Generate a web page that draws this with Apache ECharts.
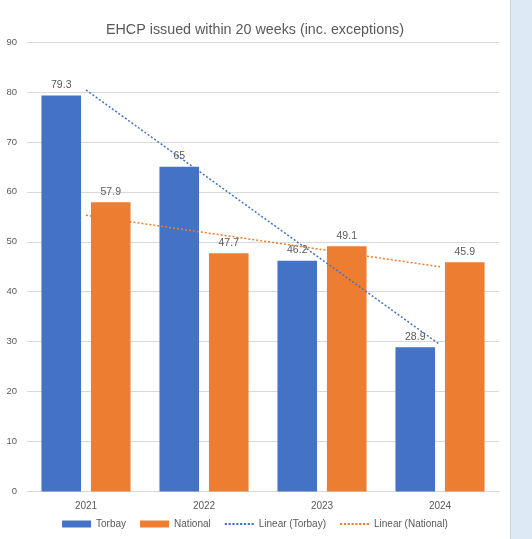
<!DOCTYPE html>
<html>
<head>
<meta charset="utf-8">
<script src="https://cdn.jsdelivr.net/npm/echarts@6/dist/echarts.min.js"></script>
<style>
  html, body { margin: 0; padding: 0; background: #dde9f5; }
  #chart { position: absolute; left: 0; top: 0; width: 510px; height: 539px; background: #fff; border-right: 1px solid #cfd6dd; }
</style>
</head>
<body>
<div id="chart"></div>
<script>
// 数据
var years = ['2021', '2022', '2023', '2024'];
var torbay = [79.3, 65, 46.2, 28.9];
var national = [57.9, 47.7, 49.1, 45.9];
// 趋势线（读自图上的两端）
var trendTorbay = [80.4, null, null, 29.4];
var trendNational = [55.3, null, null, 45.0];
var yTicks = [0, 10, 20, 30, 40, 50, 60, 70, 80, 90];

var font = 'Liberation Sans';
var grey = '#595959';

// 图例里的点线图标
var dots = '';
for (var i = 0; i < 8; i++) {
    dots += 'M' + (i * 3.5) + ' 0h2v1.6h-2z';
}
var dotIcon = 'path://' + dots;

var myChart = echarts.init(document.getElementById('chart'));

var labelStyle = { show: true, position: 'top', distance: 5, color: grey, fontSize: 10.5 };

var option = {
    animation: false,
    textStyle: { fontFamily: font },
    title: {
        text: 'EHCP issued within 20 weeks (inc. exceptions)',
        left: 'center',
        top: 18,
        textStyle: { fontFamily: font, fontSize: 14.3, fontWeight: 'normal', color: grey }
    },
    legend: {
        bottom: 5,
        left: 'center',
        itemWidth: 29,
        itemHeight: 7,
        itemGap: 14,
        textStyle: { fontFamily: font, fontSize: 10, color: grey },
        data: [
            { name: 'Torbay', icon: 'rect' },
            { name: 'National', icon: 'rect' },
            { name: 'Linear (Torbay)', icon: dotIcon, itemStyle: { color: '#4472c4' } },
            { name: 'Linear (National)', icon: dotIcon, itemStyle: { color: '#ed7d31' } }
        ]
    },
    grid: { left: 27, right: 11, top: 42, bottom: 47.5 },
    xAxis: {
        type: 'category',
        data: years,
        axisTick: { show: false },
        axisLine: { lineStyle: { color: '#d9d9d9' } },
        axisLabel: { color: grey, fontSize: 10, margin: 10 }
    },
    yAxis: {
        type: 'value',
        min: yTicks[0],
        max: yTicks[yTicks.length - 1],
        interval: 10,
        axisLine: { show: false },
        axisTick: { show: false },
        axisLabel: { color: grey, fontSize: 9.5, margin: 10 },
        splitLine: { lineStyle: { color: '#d9d9d9' } }
    },
    series: [
        {
            name: 'Torbay',
            type: 'bar',
            data: torbay,
            barGap: '25%',
            barCategoryGap: '24.5%',
            itemStyle: { color: '#4472c4' },
            label: labelStyle
        },
        {
            name: 'National',
            type: 'bar',
            data: national,
            itemStyle: { color: '#ed7d31' },
            label: labelStyle
        },
        {
            name: 'Linear (Torbay)',
            type: 'line',
            data: trendTorbay,
            connectNulls: true,
            symbol: 'none',
            z: 5,
            itemStyle: { color: '#4472c4' },
            lineStyle: { color: '#4472c4', width: 1.5, type: [2, 2] }
        },
        {
            name: 'Linear (National)',
            type: 'line',
            data: trendNational,
            connectNulls: true,
            symbol: 'none',
            z: 5,
            itemStyle: { color: '#ed7d31' },
            lineStyle: { color: '#ed7d31', width: 1.5, type: [2, 2] }
        }
    ]
};

myChart.setOption(option);
</script>
</body>
</html>
